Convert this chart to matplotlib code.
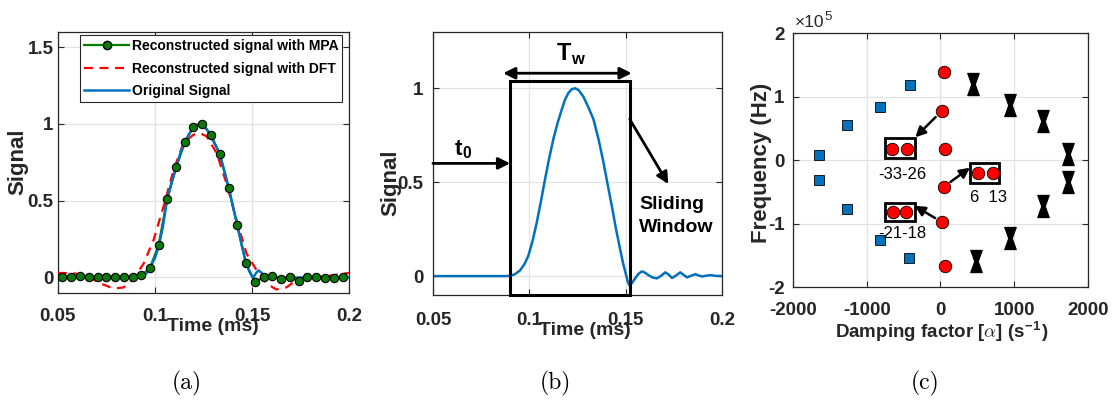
import numpy as np
import matplotlib.pyplot as plt
from matplotlib.lines import Line2D
from matplotlib.patches import Rectangle
from matplotlib.path import Path

plt.rcParams['font.family'] = ['Liberation Sans', 'DejaVu Sans']
plt.rcParams['font.weight'] = 'bold'
plt.rcParams['axes.labelweight'] = 'bold'
plt.rcParams['axes.unicode_minus'] = False
plt.rcParams['mathtext.fontset'] = 'custom'
plt.rcParams['mathtext.rm'] = 'Liberation Sans:bold'
plt.rcParams['mathtext.bf'] = 'Liberation Sans:bold'
plt.rcParams['mathtext.it'] = 'cmmi10'

# ---- (a) reconstructed signals ----
mpa_t = [0.0522, 0.0568, 0.0613, 0.0659, 0.0705, 0.0750, 0.0795, 0.0839, 0.0884, 0.0929,
         0.0973, 0.1018, 0.1062, 0.1108, 0.1153, 0.1197, 0.1241, 0.1288, 0.1332, 0.1378,
         0.1423, 0.1467, 0.1513, 0.1558, 0.1602, 0.1648, 0.1693, 0.1739, 0.1783, 0.1829,
         0.1874, 0.1920, 0.1966]
mpa_v = [0.004, 0.004, 0.009, 0.0, 0.004, 0.004, 0.004, 0.004, 0.004, 0.013,
         0.061, 0.209, 0.512, 0.717, 0.880, 0.983, 1.0, 0.928, 0.806, 0.586,
         0.340, 0.092, -0.031, 0.004, 0.009, -0.013, 0.0, -0.022, 0.004, 0.0,
         -0.004, -0.004, 0.0]

dft_t = [0.05, 0.058, 0.065, 0.0719, 0.0787, 0.0838, 0.089, 0.0941, 0.0992, 0.1043,
         0.1095, 0.1146, 0.1197, 0.1231, 0.1265, 0.1317, 0.1368, 0.1419, 0.147, 0.1522,
         0.1573, 0.1624, 0.1675, 0.1727, 0.1778, 0.1846, 0.1915, 0.2]
dft_v = [0.03, 0.028, 0.01, -0.039, -0.072, -0.065, -0.007, 0.09, 0.244, 0.46,
         0.70, 0.876, 0.93, 0.94, 0.92, 0.81, 0.61, 0.375, 0.157, 0.048,
         -0.039, -0.078, -0.065, -0.017, 0.004, 0.004, 0.015, 0.03]

orig_a_t = [0.05, 0.0905, 0.093, 0.0955, 0.0975, 0.100, 0.102, 0.104, 0.1062, 0.1085,
            0.111, 0.113, 0.1153, 0.1175, 0.1197, 0.1215, 0.1235, 0.1255, 0.128, 0.1305,
            0.1332, 0.1355, 0.1378, 0.140, 0.1423, 0.1445, 0.1467, 0.1485, 0.1498, 0.1507,
            0.152, 0.1532, 0.1548, 0.1563, 0.158, 0.162, 0.2]
orig_a_v = [0.0, 0.0, 0.008, 0.025, 0.065, 0.13, 0.21, 0.33, 0.51, 0.62,
            0.72, 0.81, 0.88, 0.935, 0.975, 0.995, 1.0, 0.985, 0.94, 0.875,
            0.81, 0.70, 0.59, 0.465, 0.34, 0.215, 0.10, 0.04, 0.01, 0.003,
            0.03, 0.046, 0.03, 0.012, 0.002, 0.0, 0.0]

# ---- (b) original signal with sliding window ----
orig_b_t = [0.05, 0.088, 0.090, 0.0925, 0.0951, 0.0975, 0.0995, 0.1017, 0.1038, 0.106,
            0.1081, 0.1102, 0.1124, 0.1146, 0.1168, 0.1185, 0.1202, 0.122, 0.1237, 0.1255,
            0.128, 0.1305, 0.1332, 0.1358, 0.1384, 0.1405, 0.1427, 0.1448, 0.147, 0.1485,
            0.150, 0.151, 0.1519, 0.1533, 0.1548, 0.1565, 0.1583, 0.160, 0.1617, 0.164,
            0.1661, 0.1683, 0.1704, 0.1722, 0.1739, 0.176, 0.1782, 0.180, 0.1817, 0.1838,
            0.186, 0.1878, 0.1895, 0.1915, 0.1938, 0.197, 0.2]
orig_b_v = [0.0, 0.0, 0.002, 0.01, 0.03, 0.065, 0.11, 0.19, 0.285, 0.40,
            0.516, 0.625, 0.729, 0.815, 0.888, 0.94, 0.975, 0.995, 1.0, 0.99,
            0.955, 0.90, 0.835, 0.73, 0.605, 0.49, 0.374, 0.255, 0.144, 0.07,
            0.01, -0.03, -0.05, -0.035, -0.012, 0.012, 0.025, 0.018, 0.005, -0.008,
            -0.012, 0.002, 0.02, 0.008, -0.01, 0.003, 0.02, 0.006, -0.007, 0.002,
            0.01, 0.003, -0.002, 0.002, 0.005, 0.001, 0.0]
win_t0, win_t1, win_top = 0.09, 0.152, 1.039

# ---- (c) poles: damping factor vs frequency ----
sq_alpha = [-1645, -1645, -1273, -1273, -827, -827, -409, -423]
sq_freq = [0.08e5, -0.31e5, 0.55e5, -0.77e5, 0.83e5, -1.26e5, 1.18e5, -1.54e5]
circ_alpha = [45, 14, 55, 45, 23, 55]
circ_freq = [1.38e5, 0.77e5, 0.17e5, -0.42e5, -0.98e5, -1.67e5]
x_alpha = [441, 945, 1386, 1736, 1736, 1386, 945, 477]
x_freq = [1.2e5, 0.87e5, 0.61e5, 0.09e5, -0.34e5, -0.73e5, -1.23e5, -1.59e5]
zoom_labels = ['-33-26', '6  13', '-21-18']
zoom_alpha = [[-655, -455], [509, 709], [-645, -468]]
zoom_freq = [0.18e5, -0.21e5, -0.82e5]

a_xticks = [0.05, 0.1, 0.15, 0.2]
a_xlabels = ['0.05', '0.1', '0.15', '0.2']
a_yticks = [0, 0.5, 1, 1.5]
a_ylabels = ['0', '0.5', '1', '1.5']
b_yticks = [0, 0.5, 1]
b_ylabels = ['0', '0.5', '1']
c_xticks = [-2000, -1000, 0, 1000, 2000]
c_xlabels = ['-2000', '-1000', '0', '1000', '2000']
c_yticks = [-2e5, -1e5, 0, 1e5, 2e5]
c_ylabels = ['-2', '-1', '0', '1', '2']

BLUE = '#0072BD'
GREEN = '#008000'
DARK = '#262626'

fig = plt.figure(figsize=(11.13, 4.09), dpi=100)
ax1 = fig.add_axes([0.052, 0.284, 0.262, 0.638])
ax2 = fig.add_axes([0.389, 0.279, 0.260, 0.643])
ax3 = fig.add_axes([0.7125, 0.298, 0.265, 0.621])


def style(ax, xpad, ypad):
    ax.grid(True, color='#e3e3e3', lw=0.9)
    ax.set_axisbelow(True)
    for s in ax.spines.values():
        s.set_color(DARK)
        s.set_linewidth(0.9)
    ax.tick_params(direction='in', length=4, width=0.8, colors=DARK,
                   top=True, right=True, labelsize=13.5)
    ax.tick_params(axis='x', pad=xpad)
    ax.tick_params(axis='y', pad=ypad)


# (a)
ax1.plot(mpa_t, mpa_v, color=GREEN, lw=1.6, zorder=2)
ax1.plot(dft_t, dft_v, color='red', lw=1.6, ls=(0, (4, 3)), zorder=3)
ax1.plot(orig_a_t, orig_a_v, color=BLUE, lw=1.8, zorder=4)
ax1.plot(mpa_t, mpa_v, ls='none', marker='o', ms=6, mfc='#0b7a0b', mec='black',
         mew=0.8, zorder=5)
ax1.set_xlim(0.05, 0.2)
ax1.set_ylim(-0.1, 1.6)
ax1.set_xticks(a_xticks, a_xlabels)
ax1.set_yticks(a_yticks, a_ylabels)
style(ax1, 11, 3)
ax1.set_xlabel('Time (ms)', fontsize=14, color=DARK)
ax1.set_ylabel('Signal', fontsize=16, va='center', color=DARK)
ax1.xaxis.set_label_coords(0.53, -0.095)
ax1.yaxis.set_label_coords(-0.137, 0.503)
handles = [
    Line2D([], [], color=GREEN, lw=1.6, marker='o', ms=6, mfc='#0b7a0b', mec='black'),
    Line2D([], [], color='red', lw=1.6, ls=(0, (4, 3))),
    Line2D([], [], color=BLUE, lw=1.8),
]
leg = ax1.legend(handles, ['Reconstructed signal with MPA', 'Reconstructed signal with DFT',
                           'Original Signal'],
                 loc='upper right', bbox_to_anchor=(0.976, 0.988), borderaxespad=0,
                 fancybox=False, framealpha=1, edgecolor=DARK, handlelength=3.2,
                 handletextpad=0.2, labelspacing=0.6, borderpad=0.3,
                 prop={'weight': 'bold', 'size': 10})
leg.get_frame().set_linewidth(0.8)

# (b)
ax2.plot(orig_b_t, orig_b_v, color=BLUE, lw=1.8)
ax2.add_patch(Rectangle((win_t0, -0.1), win_t1 - win_t0, win_top + 0.1, fill=False,
                        ec='black', lw=2.2, zorder=5, clip_on=False))
ax2.set_xlim(0.05, 0.2)
ax2.set_ylim(-0.1, 1.3)
ax2.set_xticks(a_xticks, a_xlabels)
ax2.set_yticks(b_yticks, b_ylabels)
style(ax2, 12, 7)
ax2.set_xlabel('Time (ms)', fontsize=14, color=DARK)
ax2.set_ylabel('Signal', fontsize=16, va='center', color=DARK)
ax2.xaxis.set_label_coords(0.526, -0.103)
ax2.yaxis.set_label_coords(-0.145, 0.426)
arrow = dict(arrowstyle='-|>,head_length=0.7,head_width=0.35', color='black', lw=2,
             shrinkA=0, shrinkB=0)
ax2.annotate('', xy=(win_t0, 0.6), xytext=(0.05, 0.6), arrowprops=arrow,
             annotation_clip=False)
ax2.annotate('', xy=(0.172, 0.49), xytext=(win_t1, 0.835), arrowprops=arrow,
             annotation_clip=False)
ax2.annotate('', xy=(0.0864, 1.08), xytext=(0.153, 1.08),
             arrowprops=dict(arrowstyle='<|-|>,head_length=0.7,head_width=0.35',
                             color='black', lw=2, shrinkA=0, shrinkB=0),
             annotation_clip=False)
ax2.text(0.1215, 1.18, r'T$_\mathrm{w}$', fontsize=17, ha='center', va='center')
ax2.text(0.0656, 0.675, r't$_\mathrm{0}$', fontsize=16, ha='center', va='center')
ax2.text(0.157, 0.32, 'Sliding\nWindow', fontsize=14, ha='left', va='center',
         linespacing=1.5)

# (c)
hourglass = Path([(-0.26, 0.5), (0.26, 0.5), (0.08, 0.0), (0.26, -0.5), (-0.26, -0.5),
                  (-0.08, 0.0), (-0.26, 0.5)],
                 [Path.MOVETO] + [Path.LINETO] * 5 + [Path.CLOSEPOLY])
ax3.plot(sq_alpha, sq_freq, ls='none', marker='s', ms=6.5, mfc=BLUE, mec='black', mew=0.6)
ax3.plot(circ_alpha, circ_freq, ls='none', marker='o', ms=9, mfc='red', mec='black',
         mew=0.6)
ax3.plot(x_alpha, x_freq, ls='none', marker=hourglass, ms=16, mfc='black', mec='black',
         mew=0.8)
box_w, box_h = [409, 395, 400], [0.32e5, 0.31e5, 0.29e5]
box_x0 = [-750, 400, -750]
box_y0 = [0.03e5, -0.36e5, -0.96e5]
for i in range(3):
    ax3.add_patch(Rectangle((box_x0[i], box_y0[i]), box_w[i], box_h[i], fill=False,
                            ec='black', lw=2, zorder=4))
    ax3.plot(zoom_alpha[i], [zoom_freq[i]] * 2, ls='none', marker='o', ms=9, mfc='red',
             mec='black', mew=0.6, zorder=5)
label_pos = [(-523, -0.22e5), (645, -0.59e5), (-523, -1.15e5)]
for lab, (lx, ly) in zip(zoom_labels, label_pos):
    ax3.text(lx, ly, lab, fontsize=12, fontweight='normal', ha='center', va='center')
carrow = dict(arrowstyle='-|>,head_length=0.6,head_width=0.3', color='black', lw=1.8,
              shrinkA=6, shrinkB=0)
ax3.annotate('', xy=(-341, 0.36e5), xytext=(circ_alpha[1], circ_freq[1]), arrowprops=carrow)
ax3.annotate('', xy=(400, -0.12e5), xytext=(circ_alpha[3], circ_freq[3]), arrowprops=carrow)
ax3.annotate('', xy=(-350, -0.72e5), xytext=(circ_alpha[4], circ_freq[4]), arrowprops=carrow)
ax3.set_xlim(-2000, 2000)
ax3.set_ylim(-2e5, 2e5)
ax3.set_xticks(c_xticks, c_xlabels)
ax3.set_yticks(c_yticks, c_ylabels)
style(ax3, 11, 6)
ax3.set_xlabel(r'Damping factor [$\alpha$] (s$^{\mathrm{-1}}$)', fontsize=13.5, color=DARK)
ax3.set_ylabel('Frequency (Hz)', fontsize=16, va='center', color=DARK)
ax3.xaxis.set_label_coords(0.505, -0.13)
ax3.yaxis.set_label_coords(-0.108, 0.49)
ax3.text(0.007, 1.024, '×10', transform=ax3.transAxes, fontsize=12.5,
         fontweight='normal', ha='left', va='baseline', color=DARK)
ax3.text(0.106, 1.052, '5', transform=ax3.transAxes, fontsize=9.5,
         fontweight='normal', ha='left', va='baseline', color=DARK)

for x, lab in zip([187, 555, 925], ['(a)', '(b)', '(c)']):
    fig.text(x / 1113, 1 - 383 / 409, lab, ha='center', va='center', fontsize=17,
             family='cmr10', fontweight='normal')

fig.savefig('out.png', dpi=100)
